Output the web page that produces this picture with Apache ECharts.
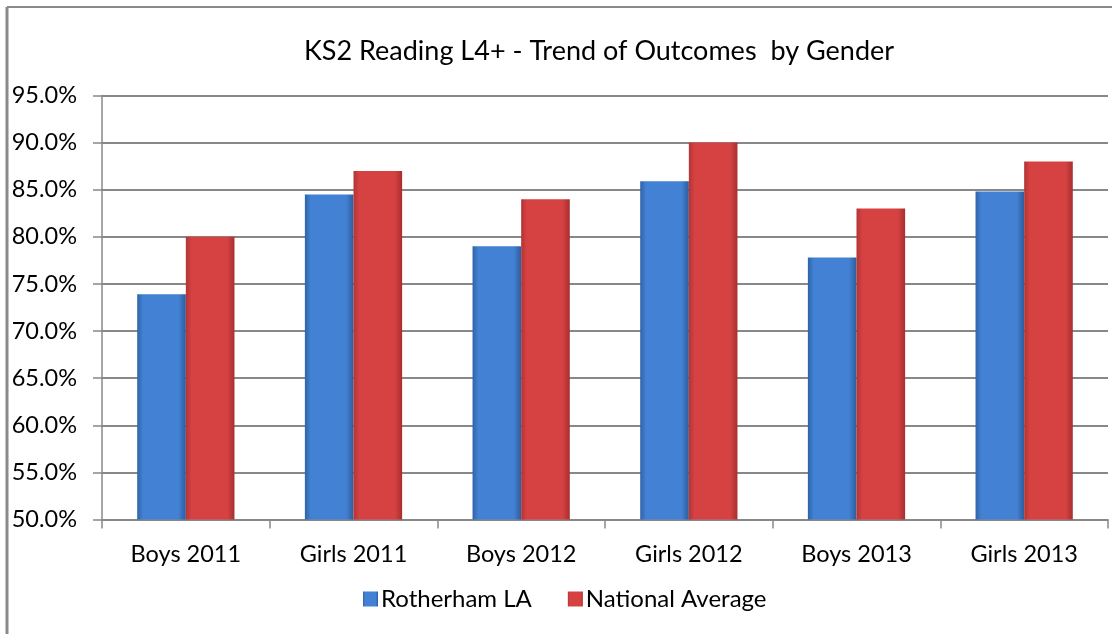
<!DOCTYPE html>
<html>
<head>
<meta charset="utf-8">
<script src="https://cdn.jsdelivr.net/npm/echarts@6/dist/echarts.min.js"></script>
<style>
  html, body { margin: 0; padding: 0; background: #fff; }
  #chart { width: 1112px; height: 634px; }
</style>
</head>
<body>
<div id="chart"></div>
<script>
const categories = ['Boys 2011', 'Girls 2011', 'Boys 2012', 'Girls 2012', 'Boys 2013', 'Girls 2013']
const rotherham = [73.9, 84.5, 79.0, 85.9, 77.8, 84.8]
const national = [80.0, 87.0, 84.0, 90.0, 83.0, 88.0]
const seriesNames = ['Rotherham LA', 'National Average']

const fontFamily = 'Lato, "DejaVu Sans", sans-serif'

function barGradient(edge, mid, dark) {
  return new echarts.graphic.LinearGradient(0, 0, 1, 0, [
    { offset: 0, color: edge },
    { offset: 0.12, color: mid },
    { offset: 0.85, color: mid },
    { offset: 1, color: dark }
  ])
}

const chart = echarts.init(document.getElementById('chart'))
const option = {
  backgroundColor: '#ffffff',
  textStyle: { fontFamily: fontFamily },
  title: {
    text: 'KS2 Reading L4+ - Trend of Outcomes  by Gender',
    left: 594,
    textAlign: 'center',
    top: 33,
    textStyle: { fontFamily: fontFamily, fontWeight: 'normal', fontSize: 27, color: '#000' }
  },
  legend: {
    data: seriesNames,
    bottom: 18,
    left: 358,
    itemWidth: 15,
    itemHeight: 15,
    itemGap: 36,
    icon: 'rect',
    textStyle: { fontFamily: fontFamily, fontSize: 24, color: '#000', padding: [0, 0, 0, -2] }
  },
  grid: {
    left: 102,
    right: 4,
    top: 95.5,
    bottom: 114.5
  },
  xAxis: {
    type: 'category',
    data: categories,
    axisLine: { lineStyle: { color: '#888888', width: 1.5 } },
    axisTick: { show: true, length: 9, alignWithLabel: false, lineStyle: { color: '#888888', width: 1.5 } },
    axisLabel: { fontSize: 23.5, color: '#000', margin: 23, fontFamily: fontFamily }
  },
  yAxis: {
    type: 'value',
    min: 50,
    max: 95,
    interval: 5,
    axisLine: { show: true, lineStyle: { color: '#888888', width: 1.5 } },
    axisTick: { show: true, length: 9, lineStyle: { color: '#888888', width: 1.5 } },
    axisLabel: {
      fontSize: 23.5,
      color: '#000',
      margin: 25,
      fontFamily: fontFamily,
      formatter: v => v.toFixed(1) + '%'
    },
    splitLine: { lineStyle: { color: '#888888', width: 2 } }
  },
  series: [
    {
      name: seriesNames[0],
      type: 'bar',
      data: rotherham,
      barWidth: '29%',
      barGap: '0%',
      itemStyle: {
        color: barGradient('#2f63a8', '#4281d3', '#2d5c9c'),
        shadowColor: 'rgba(0,0,0,0.25)',
        shadowBlur: 4,
        shadowOffsetX: 1
      }
    },
    {
      name: seriesNames[1],
      type: 'bar',
      data: national,
      barWidth: '29%',
      barGap: '0%',
      itemStyle: {
        color: barGradient('#b33434', '#d64242', '#a82e2e'),
        shadowColor: 'rgba(0,0,0,0.25)',
        shadowBlur: 4,
        shadowOffsetX: 1
      }
    }
  ],
  graphic: [
    {
      type: 'line',
      shape: { x1: 7, y1: 7, x2: 1112, y2: 7 },
      style: { stroke: '#8a8a8a', lineWidth: 2 }
    },
    {
      type: 'line',
      shape: { x1: 7, y1: 7, x2: 7, y2: 634 },
      style: { stroke: '#8a8a8a', lineWidth: 3 }
    }
  ]
}
chart.setOption(option)
</script>
</body>
</html>
